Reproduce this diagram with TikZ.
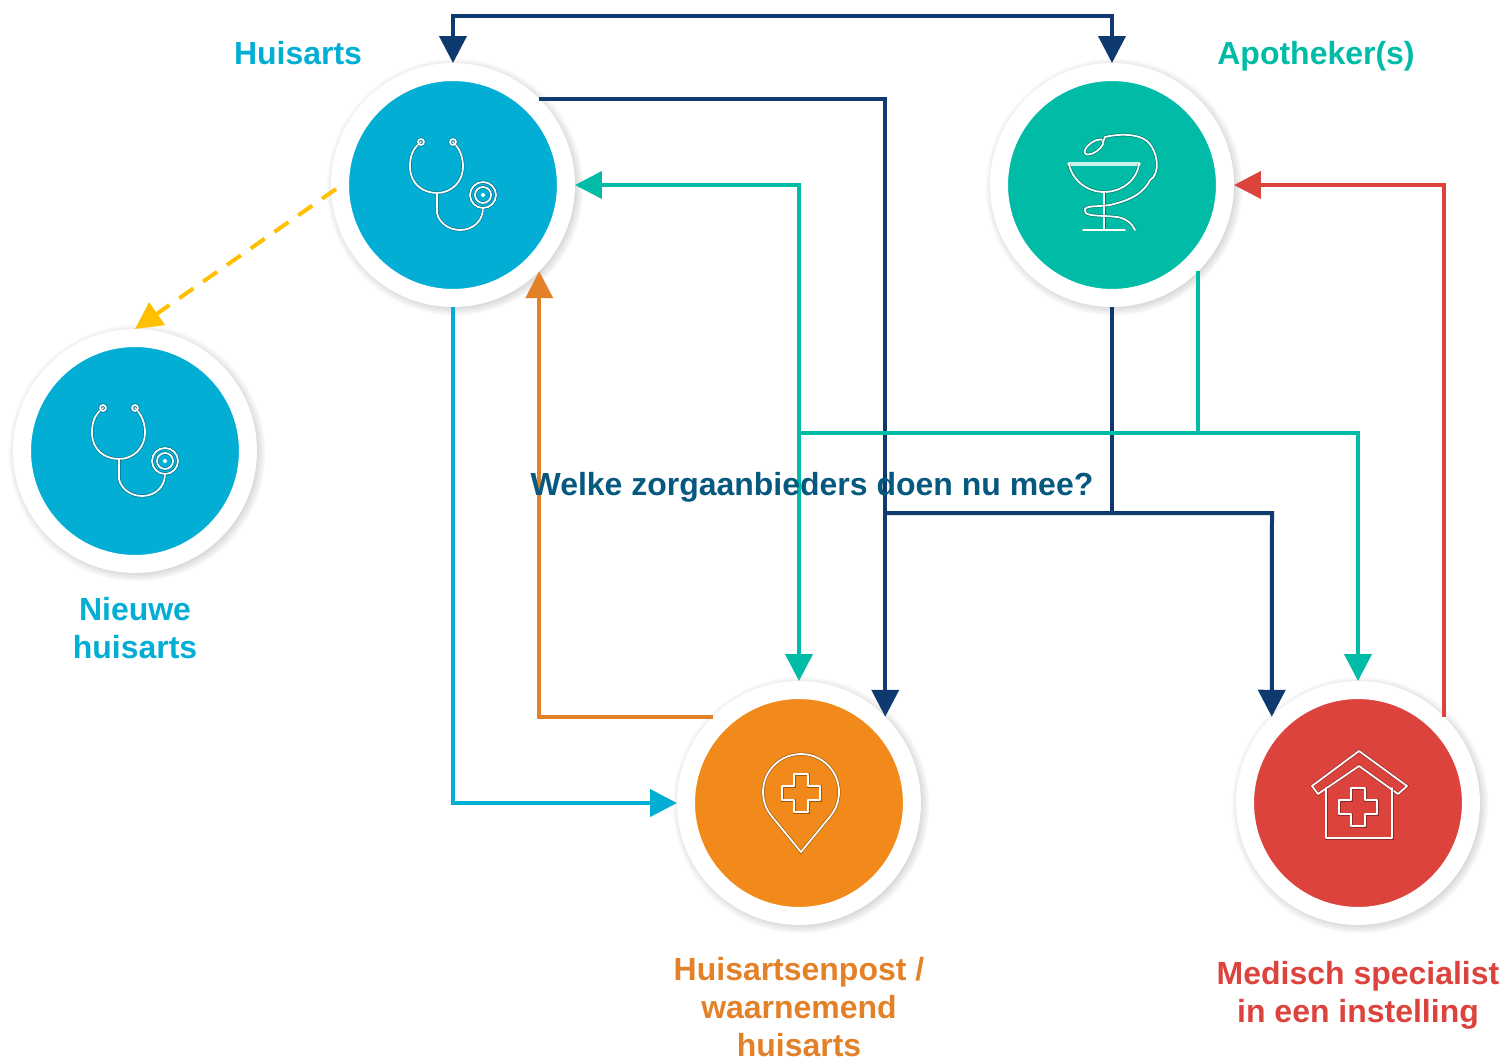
\documentclass[tikz,border=0pt]{standalone}
\usepackage{fontspec}
\setmainfont{Liberation Sans}
\usetikzlibrary{arrows.meta,shadows,fadings}
\definecolor{zorgblue}{HTML}{03AED4}
\definecolor{zorggreen}{HTML}{00BBA5}
\definecolor{zorgorange}{HTML}{F18A1A}
\definecolor{zorgred}{HTML}{DC433D}
\definecolor{zorgnavy}{HTML}{0F3A70}
\definecolor{lineorange}{HTML}{E38129}
\definecolor{linegold}{HTML}{FFC000}
\definecolor{titleblue}{HTML}{05587E}
\tikzset{
  zorg/.style={circle,fill=#1,draw=white,line width=0.36cm,minimum size=4.52cm,
    circular drop shadow={shadow xshift=0.03cm,shadow yshift=-0.03cm,shadow scale=1.14,opacity=.6}},
  conn/.style={line width=0.08cm,draw=#1,-{Triangle[length=0.54cm,width=0.54cm]}},
  bus/.style={line width=0.08cm,draw=#1},
  lab/.style={font=\fontsize{18.2}{21.6}\selectfont\bfseries,align=center,text=#1},
  icon/.style={draw=white,line width=0.035cm,line join=round,line cap=round,
    preaction={draw=black,draw opacity=.35,line width=0.06cm}},
  cross/.pic={\draw [icon] (-7,-19) -- (7,-19) -- (7,-7) -- (19,-7) -- (19,7) -- (7,7) -- (7,19) -- (-7,19) -- (-7,7) -- (-19,7) -- (-19,-7) -- (-7,-7) -- cycle;},
  stetho/.pic={
    \draw [icon] (-32,43) .. controls (-41,36) and (-43,28) .. (-43,18) .. controls (-43,2) and (-31,-8) .. (-16,-8) .. controls (-1,-8) and (10,4) .. (10,18) .. controls (10,28) and (7,36) .. (0,43);
    \draw [icon] (-32,43) circle (3);
    \draw [icon] (0,43) circle (3);
    \draw [icon] (-16,-8) -- (-16,-28) .. controls (-14,-38) and (-4,-45) .. (7,-45) .. controls (20,-45) and (30,-36) .. (30,-23);
    \draw [icon] (30,-10) circle (13);
    \draw [icon] (30,-10) circle (8);
    \fill [white] (30,-10) circle (2);
  }
}
\begin{document}
\begin{tikzpicture}[x=0.02cm,y=0.02cm]
\tikzstyle{every node}+=[inner sep=0pt]
\useasboundingbox (0,0) rectangle (1502,-1061);
% connector corners
\coordinate (topleft) at (453,-16);
\coordinate (topright) at (1112,-16);
\coordinate (greenleft) at (799,-433);
\coordinate (greenright) at (1358,-433);
\coordinate (navyleft) at (885,-513);
\coordinate (navyright) at (1272,-513);
\coordinate (goldstart) at (336,-189);
% circles
\node [zorg=zorgblue] (huisarts) at (453,-185) {};
\node [zorg=zorggreen] (apotheker) at (1112,-185) {};
\node [zorg=zorgblue] (nieuwe) at (135,-451) {};
\node [zorg=zorgorange] (post) at (799,-803) {};
\node [zorg=zorgred] (specialist) at (1358,-803) {};
% icons
\pic at (huisarts) {stetho};
\pic at (nieuwe) {stetho};
\begin{scope}[shift={(apotheker)}]
\draw [icon,line width=0.07cm,white!80!zorggreen] (-43,21) -- (27,21);
\draw [icon] (-43,21) .. controls (-40,5) and (-25,-7) .. (-8,-7) .. controls (10,-7) and (25,5) .. (27,21);
\draw [icon] (-8,-7) -- (-8,-45);
\draw [icon] (-29,-45) -- (13,-45);
\draw [icon,rotate around={35:(-18,38)}] (-18,38) ellipse (11 and 5);
\draw [icon] (-9,43) -- (-7,48) .. controls (5,51) and (25,52) .. (35,44) .. controls (47,33) and (48,10) .. (38,5) .. controls (30,-12) and (10,-17) .. (-2,-20) .. controls (-15,-22) and (-29,-20) .. (-27,-26) .. controls (-27,-32) and (-10,-30) .. (5,-32) .. controls (13,-33) and (20,-38) .. (23,-45);
\end{scope}
\begin{scope}[shift={(post)}]
\draw [icon] (2,-49) -- (-27.4,-13.1) arc (219.3:-39.3:38) -- cycle;
\pic at (2,10) {cross};
\end{scope}
\begin{scope}[shift={(specialist)}]
\draw [icon] (1,52) -- (49,17) -- (40,9) -- (1,37) -- (-40,9) -- (-46,17) -- cycle;
\draw [icon] (-32,15) -- (-32,-35) -- (34,-35) -- (34,15);
\pic at (0,-4) {cross};
\end{scope}
% navy lines
\draw [bus=zorgnavy,{Triangle[length=0.54cm,width=0.54cm]}-{Triangle[length=0.54cm,width=0.54cm]}] (huisarts.north) -- (topleft) -- (topright) -- (apotheker.north);
\draw [conn=zorgnavy] (huisarts.45) -| (post.45);
\draw [bus=zorgnavy] (apotheker.south) |- (navyleft);
\draw [conn=zorgnavy] (navyleft) -- (navyright) -- (specialist.135);
% green lines
\draw [bus=zorggreen] (apotheker.-45) |- (greenleft);
\draw [conn=zorggreen] (greenleft) -- (post.north);
\draw [conn=zorggreen] (greenleft) |- (huisarts.east);
\draw [conn=zorggreen] (apotheker.-45) |- (greenright) -- (specialist.north);
% the other lines
\draw [conn=zorgblue] (huisarts.south) |- (post.west);
\draw [conn=lineorange] (post.135) -| (huisarts.-45);
\draw [conn=zorgred] (specialist.45) |- (apotheker.east);
\draw [conn=linegold,dash pattern=on 0.34cm off 0.24cm] (goldstart) -- (nieuwe.north);
% labels
\node [lab=zorgblue] (huisartslab) at (298,-53) {Huisarts};
\node [lab=zorggreen] (apothekerlab) at (1316,-56) {Apotheker(s)};
\node [lab=zorgblue] (nieuwelab) at (135,-628) {Nieuwe\\huisarts};
\node [lab=lineorange] (postlab) at (799,-1007) {Huisartsenpost /\\waarnemend\\huisarts};
\node [lab=zorgred] (specialistlab) at (1358,-995) {Medisch specialist\\in een instelling};
\node [lab=titleblue] (title) at (812,-487) {Welke zorgaanbieders doen nu mee?};
\end{tikzpicture}
\end{document}
